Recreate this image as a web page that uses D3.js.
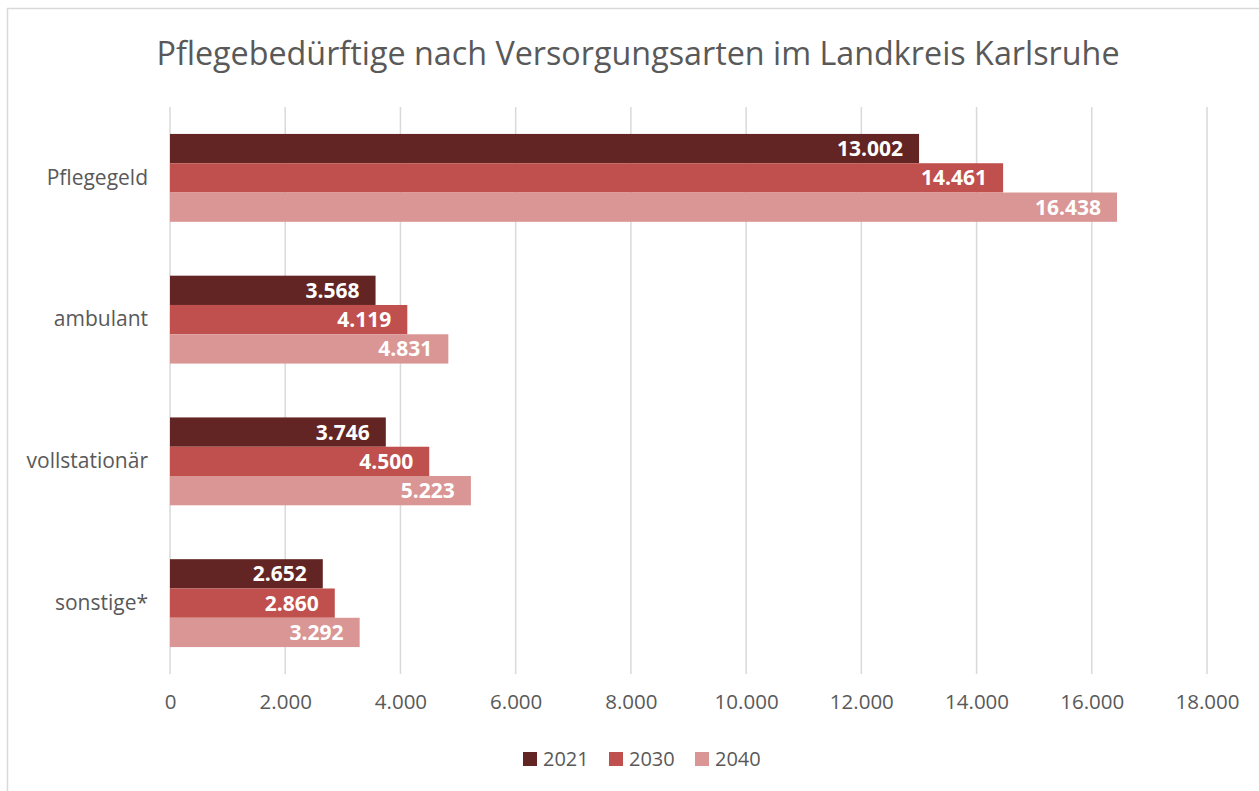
<!DOCTYPE html>
<html>
<head>
<meta charset="utf-8">
<script src="https://cdn.jsdelivr.net/npm/d3@7"></script>
<style>
  body { margin: 0; background: #fff; }
  svg { display: block; font-family: "Open Sans", sans-serif; }
</style>
</head>
<body>
<svg width="1259" height="791"></svg>
<script>
var categories = ["Pflegegeld", "ambulant", "vollstationär", "sonstige*"];
var years = ["2021", "2030", "2040"];
var values2021 = [13002, 3568, 3746, 2652];
var values2030 = [14461, 4119, 4500, 2860];
var values2040 = [16438, 4831, 5223, 3292];
var xTicks = [0, 2000, 4000, 6000, 8000, 10000, 12000, 14000, 16000, 18000];
var colors = ["#632523", "#C0504D", "#D99694"];

var series = [values2021, values2030, values2040];
var fmt = function(v) { return d3.format(",")(v).replace(/,/g, "."); };

var svg = d3.select("svg");

// chart border
svg.append("rect")
  .attr("x", 7.5).attr("y", 8.5)
  .attr("width", 1270).attr("height", 800)
  .attr("fill", "none").attr("stroke", "#d9d9d9").attr("stroke-width", 1.5);

svg.append("text")
  .attr("x", 638).attr("y", 65)
  .attr("text-anchor", "middle")
  .attr("font-size", "32.3px")
  .attr("fill", "#595959")
  .text("Pflegebedürftige nach Versorgungsarten im Landkreis Karlsruhe");

var plotLeft = 170, plotRight = 1207, plotTop = 107, plotBottom = 674;

var xScale = d3.scaleLinear().domain([0, 18000]).range([plotLeft, plotRight]);
var yScale = d3.scaleBand().domain(categories).range([plotTop, plotBottom])
  .paddingInner(0.38).paddingOuter(0.19);
var ySub = d3.scaleBand().domain(years).range([0, yScale.bandwidth()]);

// gridlines
svg.append("g")
  .selectAll("line")
  .data(xTicks)
  .enter()
  .append("line")
  .attr("x1", function(d) { return xScale(d); })
  .attr("x2", function(d) { return xScale(d); })
  .attr("y1", plotTop).attr("y2", plotBottom)
  .attr("stroke", "#d9d9d9").attr("stroke-width", 1.5);

// x axis labels
var xAxis = svg.append("g")
  .attr("transform", "translate(0," + plotBottom + ")")
  .call(d3.axisBottom(xScale).tickValues(xTicks).tickSize(0).tickPadding(20).tickFormat(fmt));
xAxis.select(".domain").remove();
xAxis.selectAll("text")
  .attr("font-family", "Open Sans")
  .attr("font-size", "20.5px")
  .attr("fill", "#595959");

// y axis labels
var yAxis = svg.append("g")
  .attr("transform", "translate(" + (plotLeft - 22) + ",0)")
  .call(d3.axisLeft(yScale).tickSize(0).tickPadding(0));
yAxis.select(".domain").remove();
yAxis.selectAll("text")
  .attr("font-family", "Open Sans")
  .attr("font-size", "21px")
  .attr("fill", "#595959");

// bars
years.forEach(function(year, s) {
  var g = svg.append("g");
  g.selectAll("rect")
    .data(categories)
    .enter()
    .append("rect")
    .attr("x", xScale(0))
    .attr("y", function(c) { return yScale(c) + ySub(year); })
    .attr("width", function(c, i) { return xScale(series[s][i]) - xScale(0); })
    .attr("height", ySub.bandwidth())
    .attr("fill", colors[s]);

  g.selectAll("text")
    .data(categories)
    .enter()
    .append("text")
    .attr("x", function(c, i) { return xScale(series[s][i]) - 16; })
    .attr("y", function(c) { return yScale(c) + ySub(year) + ySub.bandwidth() / 2; })
    .attr("dy", "0.36em")
    .attr("text-anchor", "end")
    .attr("font-size", "21px")
    .attr("font-weight", "bold")
    .attr("fill", "#fff")
    .text(function(c, i) { return fmt(series[s][i]); });
});

// legend
var legendX = [523, 609, 695];
var legend = svg.selectAll(".legend")
  .data(years)
  .enter()
  .append("g")
  .attr("class", "legend")
  .attr("transform", function(d, i) { return "translate(" + legendX[i] + ",752)"; });
legend.append("rect")
  .attr("width", 14).attr("height", 14)
  .attr("fill", function(d, i) { return colors[i]; });
legend.append("text")
  .attr("x", 20).attr("y", 7)
  .attr("dy", "0.36em")
  .attr("font-size", "20px")
  .attr("fill", "#595959")
  .text(function(d) { return d; });
</script>
</body>
</html>
